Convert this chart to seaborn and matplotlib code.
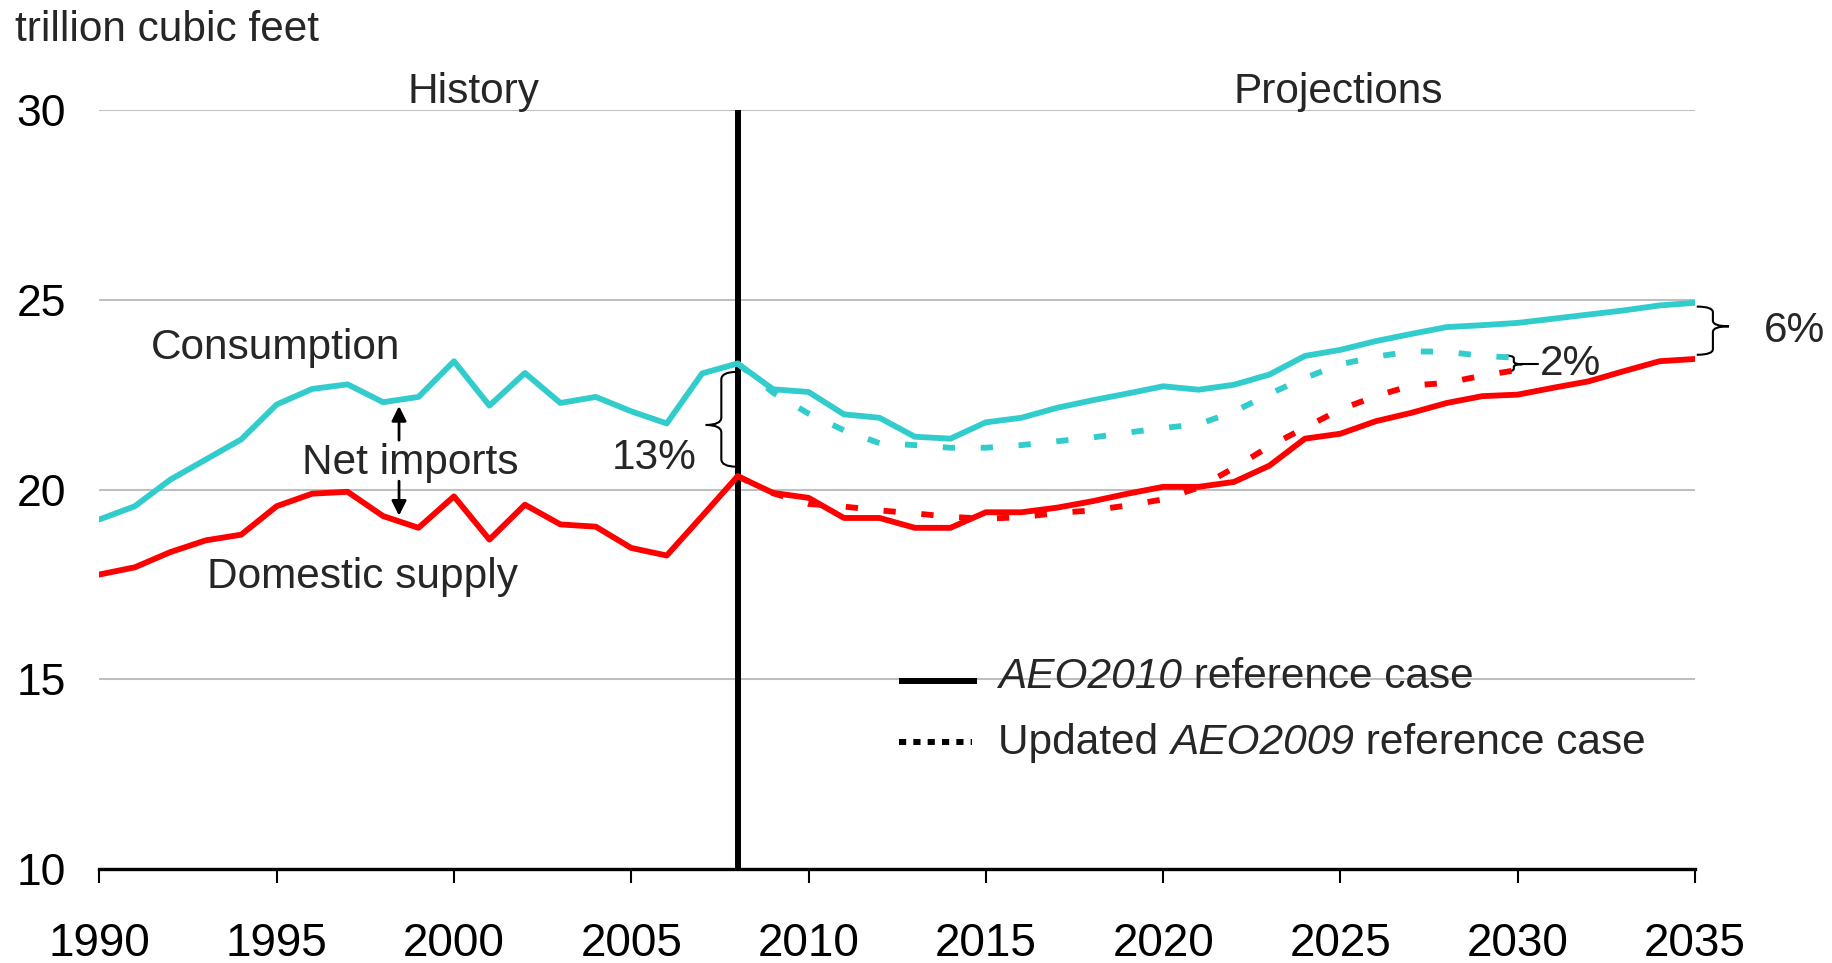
import numpy as np
import pandas as pd
import seaborn as sns
import matplotlib.pyplot as plt
from matplotlib.path import Path
from matplotlib.patches import PathPatch

# history 1990-2008
hist_years = list(range(1990, 2009))
hist_consumption = [19.21, 19.56, 20.26, 20.79, 21.32, 22.24, 22.65, 22.77, 22.30, 22.44,
                    23.38, 22.21, 23.07, 22.28, 22.44, 22.06, 21.74, 23.06, 23.32]
hist_supply = [17.76, 17.95, 18.35, 18.66, 18.81, 19.56, 19.89, 19.94, 19.30, 18.99,
               19.82, 18.68, 19.60, 19.08, 19.02, 18.46, 18.26, 19.30, 20.35]

# AEO2010 reference case 2008-2035
aeo2010_years = list(range(2008, 2036))
aeo2010_consumption = [23.32, 22.64, 22.57, 21.98, 21.89, 21.39, 21.34, 21.77, 21.89, 22.15,
                       22.35, 22.53, 22.72, 22.63, 22.76, 23.03, 23.52, 23.68, 23.91, 24.10,
                       24.28, 24.33, 24.39, 24.50, 24.61, 24.72, 24.85, 24.92]
aeo2010_supply = [20.35, 19.91, 19.78, 19.25, 19.25, 18.99, 18.99, 19.40, 19.40, 19.52,
                  19.69, 19.89, 20.07, 20.07, 20.20, 20.63, 21.34, 21.47, 21.80, 22.02,
                  22.28, 22.46, 22.50, 22.68, 22.85, 23.12, 23.38, 23.44]

# updated AEO2009 reference case 2008-2030
aeo2009_years = list(range(2008, 2031))
aeo2009_consumption = [23.32, 22.55, 22.00, 21.56, 21.22, 21.17, 21.10, 21.10, 21.17, 21.27,
                       21.37, 21.50, 21.62, 21.72, 22.05, 22.52, 22.94, 23.30, 23.50, 23.64,
                       23.63, 23.52, 23.47]
aeo2009_supply = [20.35, 19.90, 19.62, 19.55, 19.45, 19.37, 19.28, 19.23, 19.27, 19.38,
                  19.45, 19.58, 19.74, 20.05, 20.57, 21.14, 21.63, 22.11, 22.46, 22.74,
                  22.81, 23.00, 23.15]

x_ticks = list(range(1990, 2036, 5))
y_ticks = [10, 15, 20, 25, 30]

cyan = '#33CCCC'
red = '#FF0000'

sns.set_style('white')
plt.rcParams['font.family'] = ['Liberation Sans', 'DejaVu Sans']


def brace(ax, x0, y0, y1, ym, w, r, tail=None):
    # curly brace, flat side at x0, tip at x0+w
    xm = x0 + w / 2
    verts = [(x0, y1), (xm, y1), (xm, y1 - r),
             (xm, ym + r), (xm, ym), (x0 + w, ym),
             (xm, ym), (xm, ym - r),
             (xm, y0 + r), (xm, y0), (x0, y0)]
    codes = [Path.MOVETO, Path.CURVE3, Path.CURVE3, Path.LINETO, Path.CURVE3, Path.CURVE3,
             Path.CURVE3, Path.CURVE3, Path.LINETO, Path.CURVE3, Path.CURVE3]
    ax.add_patch(PathPatch(Path(verts, codes), fc='none', ec='black', lw=1.5, clip_on=False))
    if tail is not None:
        ax.plot([x0 + w, tail], [ym, ym], color='black', lw=1.5, clip_on=False)


def rich_text(ax, x, y, parts, fs):
    # pieces of one line, some italic, placed one after another
    t = ax.text(x, y, parts[0][0], style=parts[0][1], ha='left', va='baseline', fontsize=fs)
    for txt, st in parts[1:]:
        t = ax.annotate(txt, xy=(1, 0), xycoords=t, ha='left', va='bottom',
                        style=st, fontsize=fs)
    return t


fig = plt.figure(figsize=(18.33, 9.63), dpi=100)
ax = fig.add_axes([0.05423, 0.09761, 0.87048, 0.78816])

ax.axvline(2008, color='black', lw=4.3, zorder=1)

lw = 4.2
dash = (0, (2.1, 4.4))
sns.lineplot(x=hist_years, y=hist_consumption, color=cyan, lw=lw, estimator=None, ax=ax)
sns.lineplot(x=hist_years, y=hist_supply, color=red, lw=lw, estimator=None, ax=ax)
sns.lineplot(x=aeo2009_years, y=aeo2009_consumption, color=cyan, lw=lw, linestyle=dash, estimator=None, ax=ax)
sns.lineplot(x=aeo2009_years, y=aeo2009_supply, color=red, lw=lw, linestyle=dash, estimator=None, ax=ax)
sns.lineplot(x=aeo2010_years, y=aeo2010_consumption, color=cyan, lw=lw, estimator=None, ax=ax)
sns.lineplot(x=aeo2010_years, y=aeo2010_supply, color=red, lw=lw, estimator=None, ax=ax)

ax.set_xlim(1990, 2035)
ax.set_ylim(10, 30)
ax.set_xticks(x_ticks)
ax.set_yticks(y_ticks)
ax.yaxis.grid(True, color='#BFBFBF', lw=1.5)
ax.xaxis.grid(False)
ax.set_axisbelow(True)
sns.despine(ax=ax, left=True)
ax.spines['bottom'].set_color('black')
ax.spines['bottom'].set_linewidth(2.4)
ax.tick_params(axis='x', bottom=True, direction='out', length=10, width=1.5,
               pad=28, labelsize=33, colors='black')
ax.tick_params(axis='y', left=False, length=0, pad=24, labelsize=32, colors='black')
ax.set_xlabel('')
ax.set_ylabel('')

fs = 30.5
fig.text(15 / 1833, 1 - 41 / 963, 'trillion cubic feet', ha='left', va='baseline', fontsize=fs)
ax.text(2000.54, 30.18, 'History', ha='center', va='baseline', fontsize=fs)
ax.text(2024.93, 30.18, 'Projections', ha='center', va='baseline', fontsize=fs)
ax.text(1994.97, 23.44, 'Consumption', ha='center', va='baseline', fontsize=fs)
ax.text(1998.78, 20.40, 'Net imports', ha='center', va='baseline', fontsize=fs)
ax.text(1997.41, 17.41, 'Domestic supply', ha='center', va='baseline', fontsize=fs)

arrow = dict(arrowstyle='-|>', lw=2, color='black', mutation_scale=22, shrinkA=0, shrinkB=0)
ax.annotate('', xy=(1998.45, 22.2), xytext=(1998.45, 21.3), arrowprops=arrow)
ax.annotate('', xy=(1998.45, 19.31), xytext=(1998.45, 20.22), arrowprops=arrow)

brace(ax, 2007.98, 20.6, 23.1, 21.7, -0.88, 0.2)
ax.text(2006.83, 20.53, '13%', ha='right', va='baseline', fontsize=fs)
brace(ax, 2035.05, 23.55, 24.82, 24.3, 0.91, 0.15)
ax.text(2036.95, 23.88, '6%', ha='left', va='baseline', fontsize=fs, clip_on=False)
brace(ax, 2029.65, 23.11, 23.53, 23.3, 0.48, 0.07, tail=2030.57)
ax.text(2030.62, 23.03, '2%', ha='left', va='baseline', fontsize=fs)

# legend
ax.plot([2012.55, 2014.75], [14.96, 14.96], color='black', lw=4.3, solid_capstyle='butt')
ax.plot([2012.55, 2014.6], [13.34, 13.34], color='black', lw=4.3, linestyle=(0, (1.2, 1.2)))
rich_text(ax, 2015.35, 14.78, [('AEO2010', 'italic'), (' reference case', 'normal')], fs)
rich_text(ax, 2015.35, 13.04, [('Updated ', 'normal'), ('AEO2009', 'italic'),
                               (' reference case', 'normal')], fs)

fig.savefig('out.png', dpi=100)
